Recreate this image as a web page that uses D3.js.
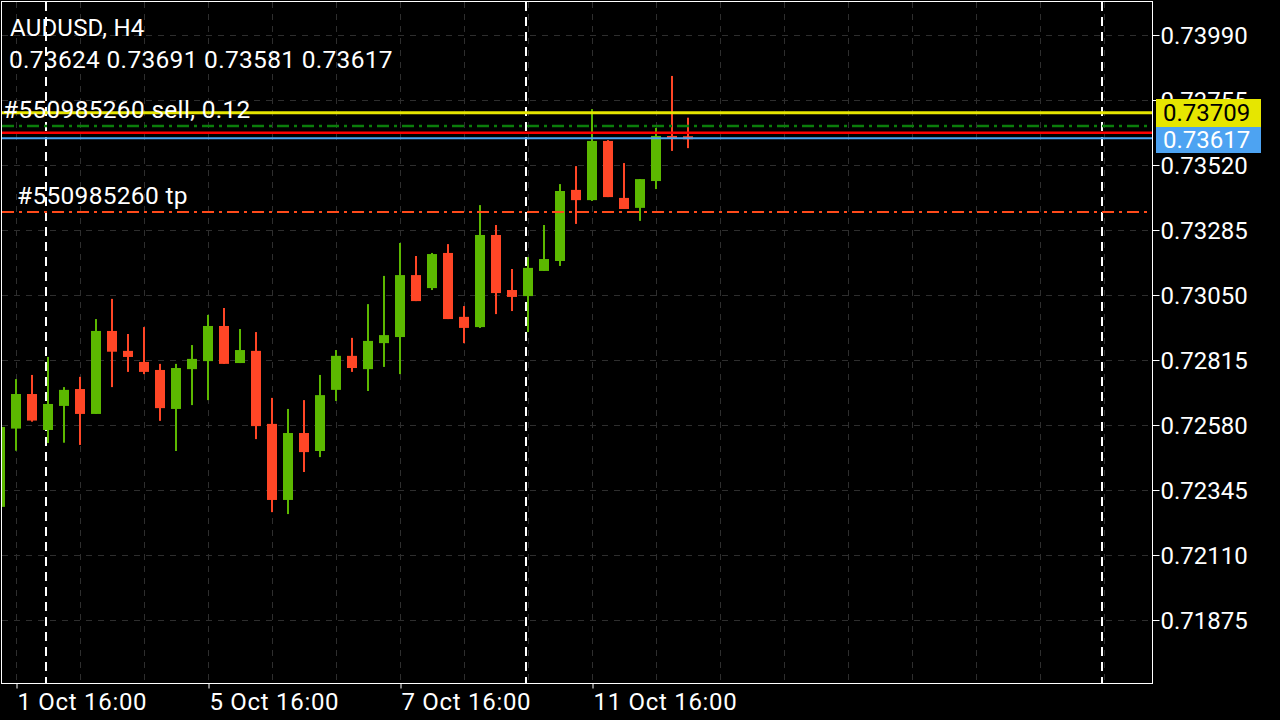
<!DOCTYPE html>
<html>
<head>
<meta charset="utf-8">
<script src="https://cdn.jsdelivr.net/npm/d3@7"></script>
<style>
  html, body { margin: 0; padding: 0; background: #000; }
  svg { display: block; font-family: Roboto, "Noto Sans", sans-serif; }
</style>
</head>
<body>
<svg id="chart" width="1280" height="720"></svg>
<script>
// ---- data ----
const symbolTitle = "AUDUSD, H4";
const ohlcText = "0.73624 0.73691 0.73581 0.73617";
const opens  = [0.72284,0.72567,0.72692,0.72562,0.72649,0.72710,0.72620,0.72920,0.72848,0.72808,0.72779,0.72638,0.72782,0.72811,0.72938,0.72804,0.72848,0.72584,0.72309,0.72551,0.72486,0.72707,0.72830,0.72782,0.72876,0.72898,0.73122,0.73075,0.73202,0.72971,0.72934,0.73267,0.73068,0.73046,0.73137,0.73173,0.73430,0.73393,0.73607,0.73401,0.73365,0.73462,0.73625,0.73624];
const highs  = [0.72573,0.72746,0.72761,0.72826,0.72717,0.72754,0.72963,0.73036,0.72909,0.72934,0.72801,0.72801,0.72869,0.72978,0.73003,0.72927,0.72916,0.72678,0.72638,0.72670,0.72761,0.72851,0.72895,0.73017,0.73119,0.73238,0.73191,0.73202,0.73234,0.73010,0.73375,0.73303,0.73144,0.73187,0.73303,0.73451,0.73516,0.73722,0.73610,0.73527,0.73469,0.73654,0.73842,0.73691];
const lows   = [0.72284,0.72487,0.72592,0.72515,0.72516,0.72508,0.72620,0.72717,0.72772,0.72764,0.72595,0.72486,0.72652,0.72670,0.72801,0.72804,0.72529,0.72265,0.72258,0.72410,0.72464,0.72667,0.72772,0.72703,0.72790,0.72764,0.73028,0.73068,0.72963,0.72876,0.72931,0.72981,0.72992,0.72916,0.73137,0.73155,0.73307,0.73390,0.73404,0.73361,0.73318,0.73433,0.73571,0.73581];
const closes = [0.72573,0.72692,0.72596,0.72656,0.72707,0.72620,0.72920,0.72845,0.72826,0.72772,0.72641,0.72786,0.72819,0.72938,0.72801,0.72851,0.72576,0.72309,0.72551,0.72482,0.72688,0.72830,0.72786,0.72884,0.72905,0.73122,0.73028,0.73198,0.72963,0.72931,0.73267,0.73057,0.73043,0.73148,0.73180,0.73426,0.73393,0.73607,0.73404,0.73361,0.73469,0.73625,0.73614,0.73617];
const priceTicks = [0.73990,0.73755,0.73520,0.73285,0.73050,0.72815,0.72580,0.72345,0.72110,0.71875];
const timeTickIndex = [1, 13, 25, 37];
const timeTickLabels = ["1 Oct 16:00", "5 Oct 16:00", "7 Oct 16:00", "11 Oct 16:00"];
const separatorIndex = [3, 33, 69];
const gridIndex = d3.range(1, 72, 4);
const orderLabel = "#550985260 sell, 0.12";
const tpLabel = "#550985260 tp";
const orderPrice = 0.73709;
const orderOpenPrice = 0.73661;
const tpPrice = 0.73350;
const askPrice = 0.73637;
const bidPrice = 0.73617;

// ---- layout ----
const svg = d3.select("#chart");
const W = 1280, H = 720;
const plot = {left: 2, right: 1152, top: 2, bottom: 683};

const y = d3.scaleLinear().domain([0.73990, 0.71875]).range([35, 620]);
const x = d3.scaleLinear().domain([0, 72]).range([0, 1152]);

svg.append("rect").attr("width", W).attr("height", H).attr("fill", "#000");

svg.append("defs").append("clipPath").attr("id", "clip")
  .append("rect").attr("x", plot.left).attr("y", plot.top)
  .attr("width", plot.right - plot.left).attr("height", plot.bottom - plot.top);

const g = svg.append("g").attr("clip-path", "url(#clip)");

// grid
g.selectAll("line.hgrid").data(priceTicks).join("line")
  .attr("x1", plot.left).attr("x2", plot.right)
  .attr("y1", d => Math.round(y(d)) + 0.5).attr("y2", d => Math.round(y(d)) + 0.5)
  .attr("stroke", "#2e2e2e").attr("stroke-width", 1).attr("stroke-dasharray", "6,6");
g.selectAll("line.vgrid").data(gridIndex).join("line")
  .attr("x1", d => x(d) + 0.5).attr("x2", d => x(d) + 0.5)
  .attr("y1", plot.top).attr("y2", plot.bottom)
  .attr("stroke", "#2e2e2e").attr("stroke-width", 1).attr("stroke-dasharray", "6,6");

// separators
g.selectAll("line.sep").data(separatorIndex).join("line")
  .attr("x1", d => x(d) - 2).attr("x2", d => x(d) - 2)
  .attr("y1", plot.top).attr("y2", plot.bottom)
  .attr("stroke", "#fff").attr("stroke-width", 2).attr("stroke-dasharray", "9,6");

// candles
const candles = d3.range(opens.length).map(i => ({i, o: opens[i], h: highs[i], l: lows[i], c: closes[i]}));
const up = "#5cb800", down = "#ff4626";
const cg = g.selectAll("g.candle").data(candles).join("g");
cg.append("rect")
  .attr("x", d => x(d.i) - 1).attr("width", 2)
  .attr("y", d => y(d.h)).attr("height", d => Math.max(1, y(d.l) - y(d.h)))
  .attr("fill", d => d.c >= d.o ? up : down);
cg.append("rect")
  .attr("x", d => x(d.i) - 5).attr("width", 10)
  .attr("y", d => Math.min(y(d.o), y(d.c)))
  .attr("height", d => Math.max(3, Math.abs(y(d.o) - y(d.c))))
  .attr("fill", d => d.c >= d.o ? up : down);

// trade / price lines
function hline(p, color, w, dash) {
  const l = g.append("line").attr("x1", plot.left).attr("x2", plot.right + 1)
    .attr("y1", y(p)).attr("y2", y(p)).attr("stroke", color).attr("stroke-width", w);
  if (dash) l.attr("stroke-dasharray", dash);
}
hline(tpPrice, "#ff4a1a", 2, "12,5,3,5");
hline(orderOpenPrice, "#0b7d0b", 2.5, "12,5,3,5");
hline(askPrice, "#ff0000", 2.5);
hline(bidPrice, "#4da3f2", 2);
hline(orderPrice, "#e6e600", 3);

// header texts
svg.append("text").attr("x", 10).attr("y", 36).attr("fill", "#fff")
  .attr("font-size", 24).attr("letter-spacing", 0.2).text(symbolTitle);
svg.append("text").attr("x", 9).attr("y", 68).attr("fill", "#fff")
  .attr("font-size", 24.5).attr("letter-spacing", 0.3).text(ohlcText);
svg.append("text").attr("x", 3).attr("y", 118).attr("fill", "#fff")
  .attr("font-size", 24.5).attr("letter-spacing", 0.3).text(orderLabel);
svg.append("text").attr("x", 17).attr("y", 204).attr("fill", "#fff")
  .attr("font-size", 24.5).attr("letter-spacing", 0.3).text(tpLabel);

// frame
svg.append("rect").attr("x", 1.5).attr("y", 1.5)
  .attr("width", plot.right - 1.5 + 0.5).attr("height", plot.bottom - 1.5 + 0.5)
  .attr("fill", "none").attr("stroke", "#fff").attr("stroke-width", 1);

// price axis
const yAxis = d3.axisRight(y).tickValues(priceTicks).tickSize(7).tickPadding(1)
  .tickFormat(d3.format(".5f"));
const ya = svg.append("g").attr("transform", `translate(${plot.right + 0.5},0)`).call(yAxis);
ya.select(".domain").remove();
ya.selectAll(".tick line").attr("stroke", "#fff");
ya.selectAll(".tick text").attr("fill", "#fff").attr("font-size", 24)
  .attr("font-family", "Roboto, sans-serif").attr("dy", "0.35em");

// time axis
const xAxis = d3.axisBottom(x).tickValues(timeTickIndex).tickSize(5).tickPadding(4)
  .tickFormat((d, i) => timeTickLabels[i]);
const xa = svg.append("g").attr("transform", `translate(0,${plot.bottom + 0.5})`).call(xAxis);
xa.select(".domain").remove();
xa.selectAll(".tick line").attr("stroke", "#fff").attr("transform", "translate(0.5,0)");
xa.selectAll(".tick text").attr("fill", "#fff").attr("font-size", 24)
  .attr("font-family", "Roboto, sans-serif").attr("letter-spacing", 0.7)
  .attr("text-anchor", "start").attr("dx", 1).attr("y", 26).attr("dy", 0);

// price labels on the axis
const boxX = 1156, boxW = 105;
const yTop = Math.round(y(orderPrice)) - 14;
const boxes = [
  {p: orderPrice, top: yTop, h: 28, bg: "#e6e600", fg: "#000"},
  {p: bidPrice, top: yTop + 28, h: 26, bg: "#4da3f2", fg: "#fff"}
];
const bg = svg.append("g");
bg.selectAll("rect").data(boxes).join("rect")
  .attr("x", boxX).attr("width", boxW).attr("y", d => d.top).attr("height", d => d.h)
  .attr("fill", d => d.bg);
bg.selectAll("text").data(boxes).join("text")
  .attr("x", boxX + 7).attr("y", d => d.top + d.h / 2).attr("dy", "0.35em")
  .attr("fill", d => d.fg).attr("font-size", 24).attr("font-family", "Roboto, sans-serif")
  .text(d => d3.format(".5f")(d.p));
</script>
</body>
</html>
